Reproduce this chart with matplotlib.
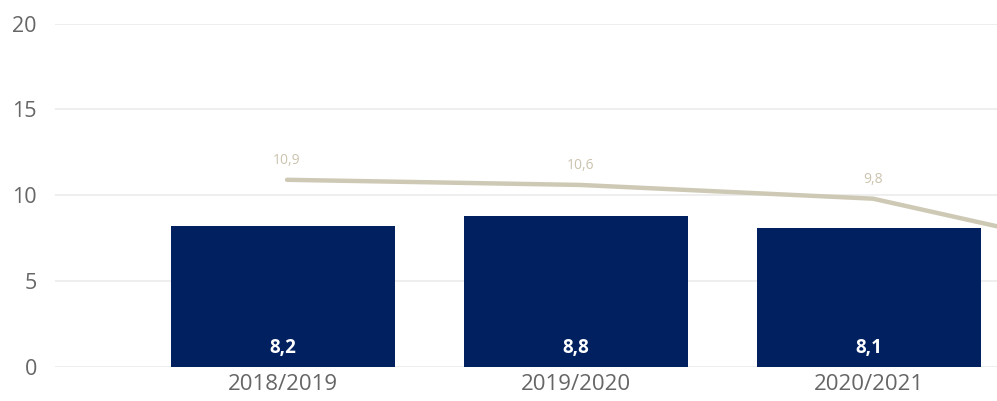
import matplotlib
matplotlib.use("Agg")
import matplotlib.pyplot as plt
import numpy as np

categories = ["2018/2019", "2019/2020", "2020/2021", "2021/2022"]
bar_values = [8.2, 8.8, 8.1, 0.0]
line_values = [10.9, 10.6, 9.8, 6.0]
bar_labels = ["8,2", "8,8", "8,1", ""]
line_labels = ["10,9", "10,6", "9,8", ""]
yticks = [0, 5, 10, 15, 20]

plt.rcParams['font.family'] = ['Open Sans', 'DejaVu Sans']

fig = plt.figure(figsize=(9.97, 4.01), dpi=100)
ax = fig.add_axes([55/997, 34/401, 1 - 55/997, (367-23.5)/401])

x = np.arange(len(categories))
ax.bar(x, bar_values, width=0.765, color="#002060", zorder=2)
ax.plot(x + 0.014, line_values, color="#CEC9B5", lw=3.2, solid_capstyle="round", zorder=3)

for xi, v, lab in zip(x, bar_values, bar_labels):
    if lab:
        ax.annotate(lab, (xi, 0), xytext=(0, 19), textcoords="offset pixels",
                    ha="center", va="center", color="white", fontsize=13.5,
                    fontweight="bold")
for xi, v, lab in zip(x, line_values, line_labels):
    if lab:
        ax.annotate(lab, (xi + 0.014, v), xytext=(0, 19), textcoords="offset pixels",
                    ha="center", va="center", color="#CBC3AE", fontsize=10)

ax.set_xlim(-0.778, 2.437)
ax.set_ylim(0, 20)
ax.set_yticks(yticks)
ax.set_yticklabels([str(t) for t in yticks])
ax.set_xticks(x[:3])
ax.set_xticklabels(categories[:3])
ax.tick_params(axis="both", length=0, colors="#666666", labelsize=15.5)
ax.tick_params(axis="x", labelsize=16)
ax.tick_params(axis="y", pad=13)
ax.tick_params(axis="x", pad=5)
for lbl in ax.get_yticklabels():
    lbl.set_horizontalalignment("right")
ax.grid(axis="y", color="#EBEBEB", lw=1.2, zorder=0)
ax.set_axisbelow(True)
for s in ax.spines.values():
    s.set_visible(False)

fig.savefig("out.png", dpi=100)
